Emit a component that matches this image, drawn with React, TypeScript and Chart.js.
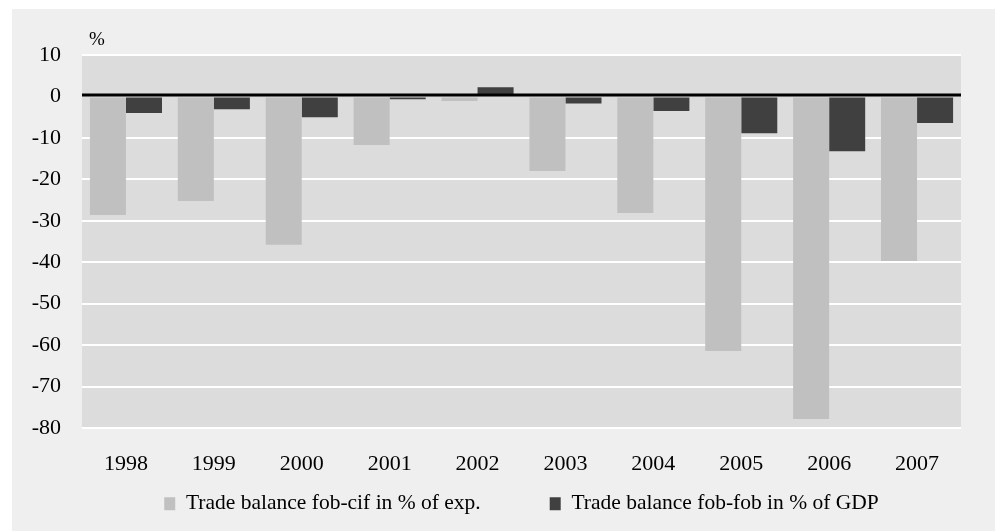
import React, { useEffect, useRef } from "react";
import { Chart, registerables } from "chart.js";

Chart.register(...registerables);

const categories = ["1998", "1999", "2000", "2001", "2002", "2003", "2004", "2005", "2006", "2007"];
const fobCifPctExp = [-28.6, -25.2, -35.8, -11.7, -1.1, -18.0, -28.1, -61.4, -77.8, -39.7];
const fobFobPctGdp = [-4.0, -3.1, -5.0, -0.7, 2.2, -1.7, -3.5, -8.9, -13.2, -6.4];
const seriesNames = ["Trade balance fob-cif in % of exp.", "Trade balance fob-fob in % of GDP"];
const unitLabel = "%";

const FONT = "'Liberation Serif', 'Times New Roman', serif";
const LEGEND_ITEM_GAP = 69;
const LEGEND_FONT = 21.5;

const bgPlugin = {
  id: "bgPlugin",
  afterLayout(chart: any) {
    const lg = chart.legend;
    const ca = chart.chartArea;
    if (lg) {
      // centre the legend under the plot area and place its row
      lg.left = ca.left;
      lg.right = ca.right;
      lg.width = ca.right - ca.left;
      const targetCursorY = 493;
      lg.top = targetCursorY - LEGEND_ITEM_GAP;
      lg.bottom = chart.height;
      lg.height = lg.bottom - lg.top;
    }
  },
  beforeDraw(chart: any) {
    const { ctx, chartArea } = chart;
    ctx.save();
    ctx.fillStyle = "#ffffff";
    ctx.fillRect(0, 0, chart.width, chart.height);
    ctx.fillStyle = "#efefef";
    ctx.fillRect(12, 9, 983, 522);
    ctx.fillStyle = "#dcdcdc";
    ctx.fillRect(chartArea.left, chartArea.top, chartArea.right - chartArea.left, chartArea.bottom - chartArea.top);
    ctx.restore();
  },
  afterDatasetsDraw(chart: any) {
    const { ctx, chartArea, scales } = chart;
    const y0 = scales.y.getPixelForValue(0) - 1.5;
    ctx.save();
    ctx.strokeStyle = "#000000";
    ctx.lineWidth = 3;
    ctx.beginPath();
    ctx.moveTo(chartArea.left, y0);
    ctx.lineTo(chartArea.right, y0);
    ctx.stroke();
    ctx.fillStyle = "#000000";
    ctx.font = `19px ${FONT}`;
    ctx.textBaseline = "middle";
    ctx.textAlign = "left";
    ctx.fillText(unitLabel, 89, 40);
    ctx.restore();
  },
};

export default function App() {
  const ref = useRef<HTMLCanvasElement>(null);
  useEffect(() => {
    if (!ref.current) return;
    const chart = new Chart(ref.current, {
      type: "bar",
      data: {
        labels: categories,
        datasets: [
          {
            label: seriesNames[0],
            data: fobCifPctExp,
            backgroundColor: "#c0c0c0",
            borderWidth: 0,
            categoryPercentage: 0.82,
            barPercentage: 1.0,
          },
          {
            label: seriesNames[1],
            data: fobFobPctGdp,
            backgroundColor: "#404040",
            borderWidth: 0,
            categoryPercentage: 0.82,
            barPercentage: 1.0,
          },
        ],
      },
      options: {
        responsive: false,
        animation: false,
        devicePixelRatio: 1,
        layout: { padding: { left: 12, right: 36, top: 55, bottom: 8 } },
        scales: {
          x: {
            grid: { display: false, drawTicks: false },
            border: { display: false },
            ticks: { color: "#000", font: { family: FONT, size: 22 }, padding: 23, maxRotation: 0, autoSkip: false },
            afterFit(scale: any) {
              scale.height = 55;
            },
          },
          y: {
            min: -80,
            max: 10,
            grid: {
              drawTicks: false,
              color: (c: any) => (c.tick && c.tick.value === 0 ? "rgba(0,0,0,0)" : "#ffffff"),
              lineWidth: 2,
            },
            border: { display: false },
            ticks: { stepSize: 10, color: "#000", font: { family: FONT, size: 22 }, padding: 21 },
            afterFit(scale: any) {
              scale.width = 70;
            },
          },
        },
        plugins: {
          legend: {
            position: "bottom",
            maxHeight: 40,
            labels: {
              color: "#000",
              font: { family: FONT, size: LEGEND_FONT },
              boxWidth: 11,
              boxHeight: 13,
              padding: LEGEND_ITEM_GAP,
            },
          },
          tooltip: { enabled: false },
        },
      },
      plugins: [bgPlugin],
    } as any);
    return () => chart.destroy();
  }, []);
  return (
    <div style={{ position: "fixed", left: 0, top: 0, width: 997, height: 531 }}>
      <canvas ref={ref} width={997} height={531} style={{ display: "block" }} />
    </div>
  );
}
